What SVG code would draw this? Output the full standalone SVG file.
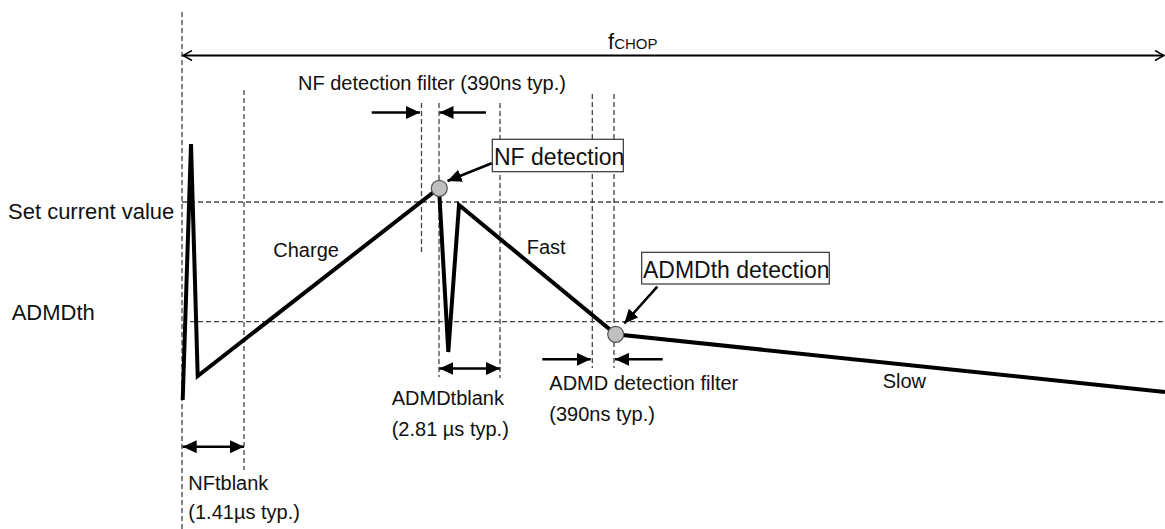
<svg xmlns="http://www.w3.org/2000/svg" width="1165" height="529" viewBox="0 0 1165 529">
  <style>
    text { font-family: "Liberation Sans", Arial, sans-serif; fill: #111; }
    .t20 { font-size: 20px; }
    .t22 { font-size: 22px; }
    .t23 { font-size: 23px; }
    .dash { stroke: #444; stroke-width: 1.3; stroke-dasharray: 5 3; fill: none; }
    .arr { stroke: #000; stroke-width: 2.6; fill: none; }
    .wave { stroke: #000; stroke-width: 4; fill: none; }
    .box { fill: #fff; stroke: #333; stroke-width: 1.2; }
    .dot { fill: #c0c0c0; stroke: #555; stroke-width: 1.2; }
  </style>
  <defs>
    <marker id="ah" markerUnits="userSpaceOnUse" markerWidth="15" markerHeight="13" refX="14" refY="6.5" orient="auto-start-reverse">
      <path d="M0,0 L14,6.5 L0,13 z" fill="#000"/>
    </marker>
    <marker id="oh" markerUnits="userSpaceOnUse" markerWidth="12" markerHeight="12" refX="10" refY="6" orient="auto-start-reverse">
      <path d="M1,1 L10,6 L1,11" fill="none" stroke="#000" stroke-width="1.5"/>
    </marker>
  </defs>

  <g id="grid">
    <line class="dash" x1="182" y1="12" x2="182" y2="529"/>
    <line class="dash" x1="244" y1="90" x2="244" y2="470"/>
    <line class="dash" x1="421.5" y1="103" x2="421.5" y2="252"/>
    <line class="dash" x1="439" y1="103" x2="439" y2="377"/>
    <line class="dash" x1="500" y1="103" x2="500" y2="378"/>
    <line class="dash" x1="592.3" y1="94" x2="592.3" y2="368"/>
    <line class="dash" x1="614" y1="94" x2="614" y2="368"/>
    <line class="dash" x1="182" y1="202" x2="1165" y2="202"/>
    <line class="dash" x1="190" y1="321.7" x2="1165" y2="321.7"/>
  </g>

  <g id="waveform">
    <polyline class="wave" points="182.7,400 191,144 197.7,376 439,188 448.3,352 459,205 615.7,334.3 1165,392"/>
    <circle id="nf-dot" class="dot" cx="439.3" cy="188.3" r="8"/>
    <circle id="admd-dot" class="dot" cx="615.7" cy="334.3" r="8"/>
  </g>

  <g id="connectors">
    <line x1="183" y1="55.5" x2="1164" y2="55.5" stroke="#000" stroke-width="2" marker-start="url(#oh)" marker-end="url(#oh)"/>
    <line class="arr" x1="371.7" y1="112.5" x2="420" y2="112.5" marker-end="url(#ah)"/>
    <line class="arr" x1="486" y1="112.5" x2="439.5" y2="112.5" marker-end="url(#ah)"/>
    <line class="arr" x1="491.7" y1="163.3" x2="447.5" y2="181" marker-end="url(#ah)"/>
    <line class="arr" x1="657.3" y1="286.7" x2="624.3" y2="323.5" marker-end="url(#ah)"/>
    <line class="arr" x1="542.3" y1="359.3" x2="590.7" y2="359.3" marker-end="url(#ah)"/>
    <line class="arr" x1="662.7" y1="359.3" x2="615" y2="359.3" marker-end="url(#ah)"/>
    <line class="arr" x1="439.3" y1="368.5" x2="500" y2="368.5" marker-start="url(#ah)" marker-end="url(#ah)"/>
    <line class="arr" x1="182.7" y1="446.7" x2="244" y2="446.7" marker-start="url(#ah)" marker-end="url(#ah)"/>
  </g>

  <g id="node-nf-detection">
    <rect class="box" x="492.3" y="139.3" width="131" height="32.4"/>
    <text class="t23" x="494" y="165">NF detection</text>
  </g>
  <g id="node-admdth-detection">
    <rect class="box" x="641.7" y="252.3" width="187.6" height="31.7"/>
    <text class="t23" x="643" y="277.7">ADMDth detection</text>
  </g>

  <g id="labels">
    <text x="608" y="49" font-size="22">f<tspan font-size="15">CHOP</tspan></text>
    <text class="t20" x="298" y="90">NF detection filter (390ns typ.)</text>
    <text class="t22" x="8" y="219">Set current value</text>
    <text class="t22" x="11.7" y="320">ADMDth</text>
    <text class="t20" x="273.3" y="256.7">Charge</text>
    <text class="t20" x="526.7" y="254">Fast</text>
    <text class="t20" x="882.7" y="387.7">Slow</text>
    <text class="t20" x="391.7" y="405">ADMDtblank</text>
    <text class="t20" x="391.7" y="436">(2.81 µs typ.)</text>
    <text class="t20" x="549.3" y="390">ADMD detection filter</text>
    <text class="t20" x="549.3" y="420.7">(390ns typ.)</text>
    <text class="t20" x="188.3" y="490">NFtblank</text>
    <text class="t20" x="188.3" y="519.3">(1.41µs typ.)</text>
  </g>
</svg>
